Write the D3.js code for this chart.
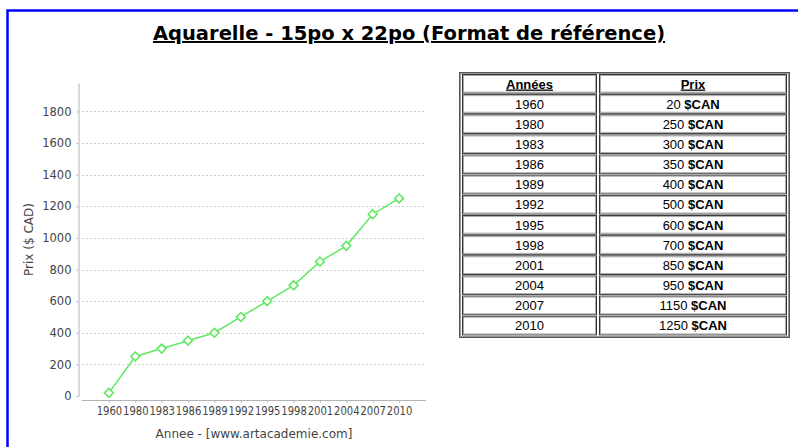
<!DOCTYPE html>
<html>
<head>
<meta charset="utf-8">
<script src="https://cdn.jsdelivr.net/npm/d3@7/dist/d3.min.js"></script>
<style>
  html, body { margin: 0; padding: 0; background: #fff; }
  svg { display: block; }
</style>
</head>
<body>
<svg id="page" width="798" height="447"></svg>
<script>
// Price history of a 15" x 22" watercolour
const years  = ["1960","1980","1983","1986","1989","1992","1995","1998","2001","2004","2007","2010"];
const prices = [20, 250, 300, 350, 400, 500, 600, 700, 850, 950, 1150, 1250];
const yTicks = [0, 200, 400, 600, 800, 1000, 1200, 1400, 1600, 1800];
const yMax   = 1980;

const titleText  = "Aquarelle - 15po x 22po (Format de référence)";
const xLabelText = "Annee - [www.artacademie.com]";
const yLabelText = "Prix ($ CAD)";
const colHeaders = ["Années", "Prix"];
const currency   = "$CAN";

const svg = d3.select("#page");

// blue frame (top and left edges)
svg.append("path")
  .attr("d", "M7.5,447 V10.5 H798")
  .attr("fill", "none")
  .attr("stroke", "#0000ff")
  .attr("stroke-width", 2.5);

// title
svg.append("text")
  .attr("x", 409).attr("y", 40)
  .attr("text-anchor", "middle")
  .attr("font-family", "DejaVu Sans, Verdana, sans-serif")
  .attr("font-weight", "bold")
  .attr("font-size", 19.5)
  .attr("fill", "#000")
  .attr("text-decoration", "underline")
  .text(titleText);

// ---- line chart ----
const plot = { left: 82, right: 426, top: 83, bottom: 396 };
const axisGap = 4;

const x = d3.scalePoint().domain(years).range([plot.left, plot.right]).padding(1.02);
const y = d3.scaleLinear().domain([0, yMax]).range([plot.bottom, plot.top]);

const chart = svg.append("g");
const tickFont = "DejaVu Sans, Verdana, sans-serif";

// dashed horizontal gridlines
chart.append("g")
  .selectAll("line")
  .data(yTicks.filter(d => d > 0))
  .join("line")
  .attr("x1", plot.left).attr("x2", plot.right)
  .attr("y1", d => Math.round(y(d)) + 0.5).attr("y2", d => Math.round(y(d)) + 0.5)
  .attr("stroke", "#cfcfcf")
  .attr("stroke-width", 1)
  .attr("stroke-dasharray", "2,2");

// y axis
const yAxis = chart.append("g")
  .attr("transform", `translate(${plot.left - axisGap + 0.5},0)`)
  .call(d3.axisLeft(y).tickValues(yTicks).tickFormat(d3.format("d"))
    .tickSize(2).tickPadding(5).tickSizeOuter(0));
yAxis.select(".domain").attr("stroke", "#b4b4b4");
yAxis.selectAll(".tick line").attr("stroke", "#b4b4b4");
yAxis.selectAll(".tick text")
  .attr("font-family", tickFont).attr("font-size", 11.5).attr("fill", "#444");

// x axis
const xAxis = chart.append("g")
  .attr("transform", `translate(0,${plot.bottom + axisGap + 0.5})`)
  .call(d3.axisBottom(x).tickSize(2).tickPadding(4).tickSizeOuter(0));
xAxis.select(".domain").attr("stroke", "#b4b4b4")
  .attr("d", `M${plot.left},0H${plot.right}`);
xAxis.selectAll(".tick line").attr("stroke", "#b4b4b4");
// category labels are squeezed into one step each so neighbours do not collide
xAxis.selectAll(".tick text")
  .attr("font-family", tickFont).attr("font-size", 11.5).attr("fill", "#444")
  .attr("textLength", x.step() - 0.8).attr("lengthAdjust", "spacingAndGlyphs");

// axis titles
chart.append("text")
  .attr("x", (plot.left + plot.right) / 2).attr("y", 438)
  .attr("text-anchor", "middle")
  .attr("font-family", tickFont).attr("font-size", 12).attr("fill", "#444")
  .text(xLabelText);

chart.append("text")
  .attr("transform", `translate(33,${(plot.top + plot.bottom) / 2}) rotate(-90)`)
  .attr("text-anchor", "middle")
  .attr("font-family", tickFont).attr("font-size", 12).attr("fill", "#444")
  .text(yLabelText);

// series line and diamond markers
const series = years.map((yr, i) => ({ yr, v: prices[i] }));
const green = "#62e862";

chart.append("path")
  .datum(series)
  .attr("fill", "none")
  .attr("stroke", green)
  .attr("stroke-width", 1.5)
  .attr("d", d3.line().x(d => x(d.yr)).y(d => y(d.v)));

const diamond = d3.symbol().type(d3.symbolDiamond2).size(50);
chart.append("g")
  .selectAll("path")
  .data(series)
  .join("path")
  .attr("transform", d => `translate(${x(d.yr)},${y(d.v)})`)
  .attr("d", diamond)
  .attr("fill", "#fff")
  .attr("stroke", green)
  .attr("stroke-width", 1.6);

// ---- price table ----
const tbl = { left: 459, right: 790, top: 72, bottom: 338 };
const cols = [{ x0: 462, x1: 597 }, { x0: 599, x1: 787 }];
const rowTop = 74, rowPitch = 20.15, rowH = 18.6;
const tableFont = "Liberation Sans, Arial, sans-serif";
const tableSize = 13;

const table = svg.append("g");

// outer border (doubled)
table.append("rect")
  .attr("x", tbl.left + 0.5).attr("y", tbl.top + 0.5)
  .attr("width", tbl.right - tbl.left - 1).attr("height", tbl.bottom - tbl.top - 1)
  .attr("fill", "none").attr("stroke", "#555");
table.append("rect")
  .attr("x", tbl.left + 1.5).attr("y", tbl.top + 1.5)
  .attr("width", tbl.right - tbl.left - 3).attr("height", tbl.bottom - tbl.top - 3)
  .attr("fill", "none").attr("stroke", "#999");

const rows = [colHeaders].concat(years.map((yr, i) => [yr, prices[i]]));

const rowG = table.selectAll("g.row")
  .data(rows)
  .join("g")
  .attr("class", "row")
  .attr("transform", (d, i) => `translate(0,${rowTop + i * rowPitch})`);

cols.forEach((c) => {
  rowG.append("rect")
    .attr("x", c.x0 + 0.5).attr("y", 0.5)
    .attr("width", c.x1 - c.x0 - 1).attr("height", rowH)
    .attr("fill", "#fff").attr("stroke", "#333");
  rowG.append("rect")
    .attr("x", c.x0 + 1.5).attr("y", 1.5)
    .attr("width", c.x1 - c.x0 - 3).attr("height", rowH - 2)
    .attr("fill", "none").attr("stroke", "#aaa");
});

// header cells
rowG.filter((d, i) => i === 0).each(function (d) {
  const g = d3.select(this);
  d.forEach((label, ci) => {
    g.append("text")
      .attr("x", (cols[ci].x0 + cols[ci].x1) / 2).attr("y", 14.5)
      .attr("text-anchor", "middle")
      .attr("font-family", tableFont).attr("font-size", tableSize)
      .attr("font-weight", "bold").attr("text-decoration", "underline")
      .attr("fill", "#000")
      .text(label);
  });
});

// data cells
rowG.filter((d, i) => i > 0).each(function (d) {
  const g = d3.select(this);
  g.append("text")
    .attr("x", (cols[0].x0 + cols[0].x1) / 2).attr("y", 14.5)
    .attr("text-anchor", "middle")
    .attr("font-family", tableFont).attr("font-size", tableSize).attr("fill", "#000")
    .text(d[0]);
  const t = g.append("text")
    .attr("x", (cols[1].x0 + cols[1].x1) / 2).attr("y", 14.5)
    .attr("text-anchor", "middle")
    .attr("font-family", tableFont).attr("font-size", tableSize).attr("fill", "#000");
  t.append("tspan").text(d[1] + " ");
  t.append("tspan").attr("font-weight", "bold").text(currency);
});
</script>
</body>
</html>
